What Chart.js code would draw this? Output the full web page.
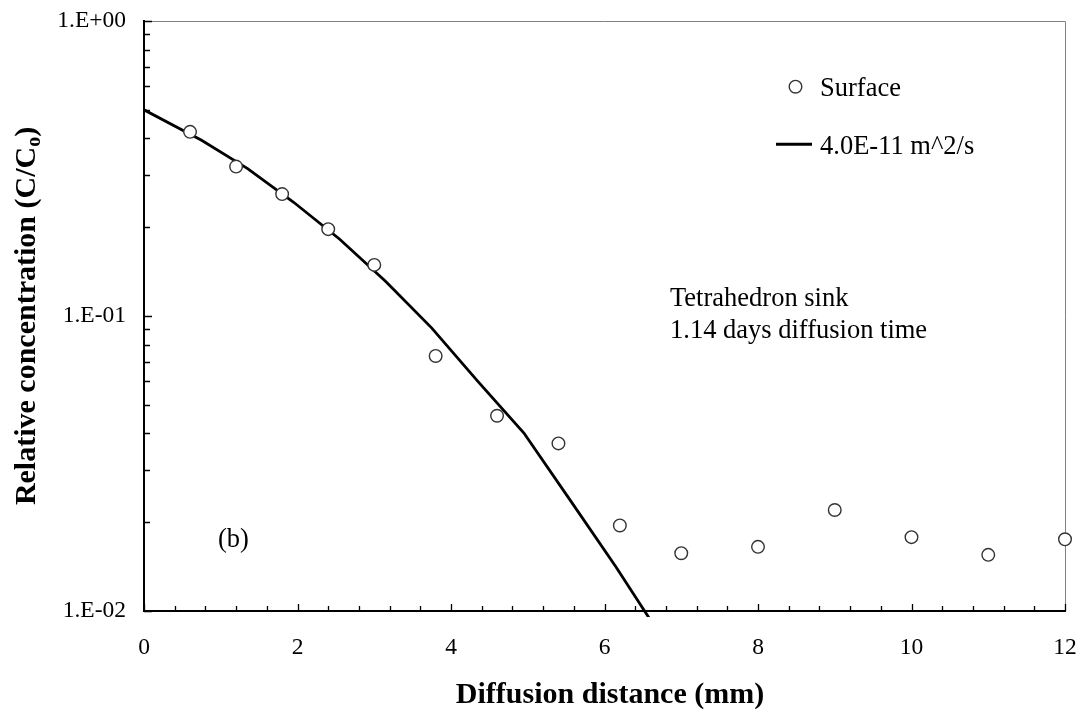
<!DOCTYPE html>
<html>
<head>
<meta charset="utf-8">
<script src="https://cdn.jsdelivr.net/npm/chart.js@4.4.0/dist/chart.umd.min.js"></script>
<style>
  html, body { margin: 0; padding: 0; background: #fff; }
  #wrap { width: 1082px; height: 713px; }
</style>
</head>
<body>
<div id="wrap"><canvas id="myChart" width="1082" height="713"></canvas></div>
<script>
// measured points (surface)
const surfaceDistance = [0.6, 1.2, 1.8, 2.4, 3.0, 3.8, 4.6, 5.4, 6.2, 7, 8, 9, 10, 11, 12];
const surfaceConc = [0.421, 0.321, 0.259, 0.197, 0.149, 0.0732, 0.0459, 0.0370, 0.0195, 0.0157, 0.0165, 0.0220, 0.0178, 0.0155, 0.0175];

// fitted curve at its corners
const modelDistance = [0, 0.75, 1.35, 1.95, 2.55, 3.15, 3.75, 4.35, 4.95, 5.55, 6.15, 6.75];
const modelConc = [0.5, 0.394, 0.316, 0.243, 0.182, 0.131, 0.091, 0.060, 0.0401, 0.0238, 0.0141, 0.0081];

const xTicks = [0, 2, 4, 6, 8, 10, 12];
const yTicks = [1, 0.1, 0.01];
const yTickLabels = ["1.E+00", "1.E-01", "1.E-02"];
const seriesLabels = ["Surface", "4.0E-11 m^2/s"];
const notes = ["Tetrahedron sink", "1.14 days diffusion time"];
const panelLabel = "(b)";

const serif = "'Liberation Serif', 'Times New Roman', serif";
Chart.defaults.font.family = serif;
Chart.defaults.color = "#000";

var ctx = document.getElementById("myChart").getContext("2d");

function toPoints(xs, ys) {
  return xs.map(function (x, i) { return { x: x, y: ys[i] }; });
}

// frame, inward tick marks and all free text
const extras = {
  id: "extras",
  beforeDatasetsDraw(chart) {
    const c = chart.ctx;
    const a = chart.chartArea;
    const xs = chart.scales.x;
    const ys = chart.scales.y;
    c.save();
    c.strokeStyle = "#808080";
    c.lineWidth = 1;
    c.beginPath();
    c.moveTo(a.left, a.top + 0.5);
    c.lineTo(a.right + 0.5, a.top + 0.5);
    c.lineTo(a.right + 0.5, a.bottom);
    c.stroke();

    c.strokeStyle = "#000";
    c.lineWidth = 1.3;
    c.beginPath();
    for (let v = 0; v <= 12.001; v += 0.4) {
      const px = Math.round(xs.getPixelForValue(v)) + 0.5;
      const major = Math.abs(v / 2 - Math.round(v / 2)) < 0.01;
      c.moveTo(px, a.bottom);
      c.lineTo(px, a.bottom - (major ? 7 : 5));
    }
    for (let d = 0.01; d < 1; d *= 10) {
      for (let k = 1; k <= 10; k++) {
        const py = Math.round(ys.getPixelForValue(d * k)) + 0.5;
        const major = k === 1 || k === 10;
        c.moveTo(a.left, py);
        c.lineTo(a.left + (major ? 8 : 6), py);
      }
    }
    c.stroke();
    c.restore();
  },
  afterDraw(chart) {
    const c = chart.ctx;
    c.save();
    c.fillStyle = "#000";

    // x title
    c.font = "bold 30px " + serif;
    c.textAlign = "center";
    c.textBaseline = "alphabetic";
    c.fillText("Diffusion distance (mm)", 610, 703);

    // y title with subscript
    c.translate(35, 316);
    c.rotate(-Math.PI / 2);
    const main = "Relative concentration (C/C";
    c.font = "bold 30px " + serif;
    const w1 = c.measureText(main).width;
    const w3 = c.measureText(")").width;
    c.font = "bold 20px " + serif;
    const w2 = c.measureText("o").width;
    let sx = -(w1 + w2 + w3) / 2;
    c.textAlign = "left";
    c.font = "bold 30px " + serif;
    c.fillText(main, sx, 0);
    c.font = "bold 20px " + serif;
    c.fillText("o", sx + w1, 5);
    c.font = "bold 30px " + serif;
    c.fillText(")", sx + w1 + w2, 0);
    c.setTransform(1, 0, 0, 1, 0, 0);

    // legend
    c.beginPath();
    c.arc(795.5, 86.7, 6.3, 0, Math.PI * 2);
    c.fillStyle = "#fff";
    c.fill();
    c.strokeStyle = "#333";
    c.lineWidth = 1.4;
    c.stroke();
    c.beginPath();
    c.moveTo(776, 144.3);
    c.lineTo(812, 144.3);
    c.strokeStyle = "#000";
    c.lineWidth = 3;
    c.stroke();
    c.fillStyle = "#000";
    c.font = "26.5px " + serif;
    c.textAlign = "left";
    c.fillText(seriesLabels[0], 820, 95.5);
    c.fillText(seriesLabels[1], 820, 154);

    // notes
    c.fillText(notes[0], 670, 306);
    c.fillText(notes[1], 670, 338);
    c.fillText(panelLabel, 218, 547);
    c.restore();
  }
};

var myChart = new Chart(ctx, {
  type: "scatter",
  data: {
    datasets: [
      {
        label: seriesLabels[0],
        data: toPoints(surfaceDistance, surfaceConc),
        pointRadius: 6.3,
        pointHoverRadius: 6.3,
        pointBackgroundColor: "#fff",
        pointBorderColor: "#333",
        pointBorderWidth: 1.4,
        showLine: false,
        clip: false,
        order: 0,
      },
      {
        label: seriesLabels[1],
        data: toPoints(modelDistance, modelConc),
        showLine: true,
        borderColor: "#000",
        borderWidth: 2.8,
        pointRadius: 0,
        tension: 0,
        clip: { left: 0, top: 0, right: 0, bottom: 6 },
        order: 1,
      },
    ],
  },
  options: {
    responsive: false,
    animation: false,
    devicePixelRatio: 1,
    layout: { padding: { top: 21, right: 17, left: 0, bottom: 0 } },
    plugins: {
      legend: { display: false },
      tooltip: { enabled: false },
    },
    scales: {
      x: {
        type: "linear",
        min: 0,
        max: 12,
        grid: { display: false },
        border: { display: true, color: "#000", width: 2 },
        afterBuildTicks: function (scale) {
          scale.ticks = xTicks.map(function (v) { return { value: v }; });
        },
        afterFit: function (scale) {
          scale.height = 102;
          scale.paddingLeft = 0;
          scale.paddingRight = 0;
        },
        ticks: {
          font: { size: 23.5, family: serif },
          color: "#000",
          padding: 15,
          maxRotation: 0,
          autoSkip: false,
        },
      },
      y: {
        type: "logarithmic",
        min: 0.01,
        max: 1,
        grid: { display: false },
        border: { display: true, color: "#000", width: 2 },
        afterBuildTicks: function (scale) {
          scale.ticks = yTicks.map(function (v) { return { value: v }; });
        },
        afterFit: function (scale) {
          scale.width = 144;
          scale.paddingTop = 0;
          scale.paddingBottom = 0;
        },
        ticks: {
          font: { size: 23.5, family: serif },
          color: "#000",
          padding: 10,
          autoSkip: false,
          callback: function (value) {
            const i = yTicks.findIndex(function (t) { return Math.abs(t - value) < t * 1e-6; });
            return i >= 0 ? yTickLabels[i] : "";
          },
        },
      },
    },
  },
  plugins: [extras],
});
</script>
</body>
</html>
